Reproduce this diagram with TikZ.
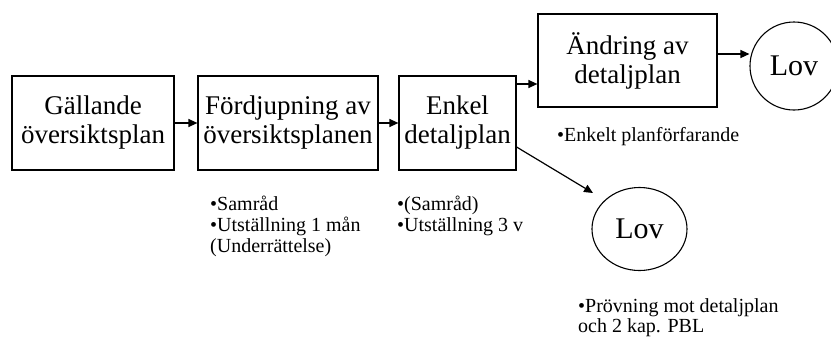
\documentclass[tikz,border=0pt]{standalone}
\usepackage{fontspec}
\setmainfont{Liberation Serif}
\usetikzlibrary{arrows.meta,shapes.geometric}
\begin{document}
\begin{tikzpicture}[x=1pt,y=-1pt,
  box/.style={draw,line width=1.2pt,inner sep=0pt,align=center,
    font=\fontsize{27}{29}\selectfont},
  lov/.style={draw,line width=1.1pt,ellipse,inner sep=0pt,font=\fontsize{30}{34}\selectfont},
  note/.style={anchor=base west,inner sep=0pt,font=\fontsize{20}{21}\selectfont},
  arr/.style={line width=1.2pt,-{Triangle[length=9pt,width=8pt]}}]
\useasboundingbox (0,0) rectangle (831,338);
\node[box,minimum width=162pt,minimum height=94pt] (b1) at (93,123) {Gällande\\översiktsplan};
\node[box,minimum width=180pt,minimum height=94pt] (b2) at (288,123) {Fördjupning av\\översiktsplanen};
\node[box,minimum width=117pt,minimum height=94pt] (b3) at (457.5,123) {Enkel\\detaljplan};
\node[box,minimum width=179pt,minimum height=93pt] (b4) at (627.5,60.5) {Ändring av\\detaljplan};
\node[lov,minimum width=88pt,minimum height=88pt] (l1) at (794,66) {Lov};
\node[lov,minimum width=95pt,minimum height=83pt] (l2) at (639.5,229) {Lov};
\draw[arr] (b1) -- (b2);
\draw[arr] (b2) -- (b3);
\draw[arr] (b3.east |- 0,84) -- (b4.west |- 0,84);
\draw[arr] (b4.east |- 0,54) -- (l1.west |- 0,54);
\coordinate (d2) at (593,193);
\draw[arr] (b3.east |- 0,147) -- (d2);
\node[note] (n1) at (557,141) {•Enkelt planförfarande};
\node[note] (n2a) at (210,210) {•Samråd};
\node[note] (n2b) at (210,231) {•Utställning 1 mån};
\node[note] (n2c) at (210,252) {(Underrättelse)};
\node[note] (n3a) at (397,210) {•(Samråd)};
\node[note] (n3b) at (397,231) {•Utställning 3 v};
\node[note] (n4a) at (578,312) {•Prövning mot detaljplan};
\node[note] (n4b) at (578,332) {och 2 kap. PBL};
\end{tikzpicture}
\end{document}
